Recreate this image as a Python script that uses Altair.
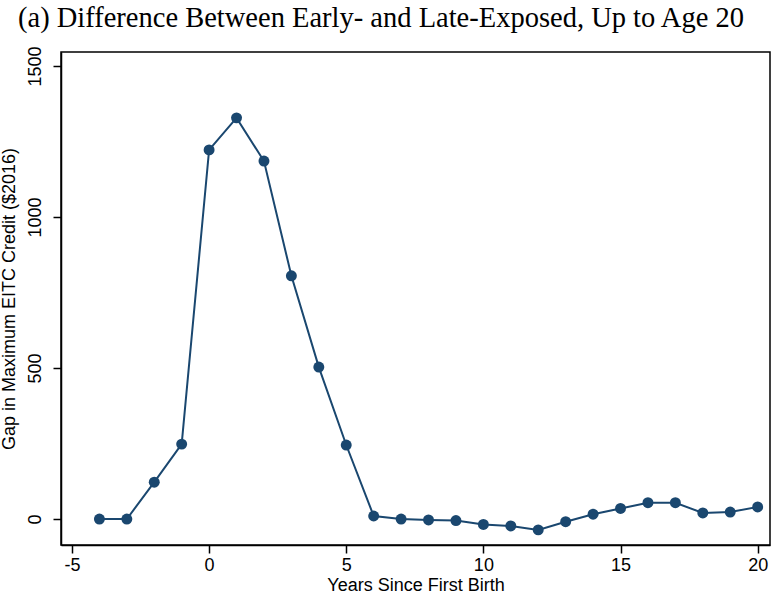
import altair as alt
import pandas as pd

# Years relative to first birth and the gap in maximum EITC credit ($2016)
years = [-4, -3, -2, -1, 0, 1, 2, 3, 4, 5, 6, 7, 8, 9, 10, 11, 12, 13, 14, 15, 16, 17, 18, 19, 20]
gap = [0, 0, 122, 248, 1222, 1328, 1185, 805, 503, 245, 10, 0, -3, -5, -18, -23, -36, -9, 16, 35, 54, 54, 20, 23, 40]

x_ticks = [-5, 0, 5, 10, 15, 20]
y_ticks = [0, 500, 1000, 1500]

df = pd.DataFrame({"year": years, "gap": gap})

NAVY = "#1a476f"

x_enc = alt.X(
    "year:Q",
    scale=alt.Scale(domain=[-5.4, 20.45], nice=False, zero=False),
    axis=alt.Axis(
        values=x_ticks,
        labelExpr="'' + datum.value",
        title="Years Since First Birth",
        grid=False,
        tickSize=8,
        labelPadding=3,
        titlePadding=2,
    ),
)
y_enc = alt.Y(
    "gap:Q",
    scale=alt.Scale(domain=[-86, 1546], nice=False, zero=False),
    axis=alt.Axis(
        values=y_ticks,
        labelExpr="'' + datum.value",
        title="Gap in Maximum EITC Credit ($2016)",
        grid=False,
        tickSize=8,
        labelAngle=270,
        labelAlign="center",
        labelBaseline="bottom",
        labelPadding=9,
        titlePadding=8,
    ),
)

line = alt.Chart(df).mark_line(color=NAVY, strokeWidth=2).encode(x=x_enc, y=y_enc)
points = alt.Chart(df).mark_circle(color=NAVY, size=120, opacity=1).encode(x=x_enc, y=y_enc)

chart = (
    alt.layer(line, points)
    .properties(
        width=709,
        height=493,
        autosize=alt.AutoSizeParams(type="none"),
        padding={"left": 61, "top": 52, "right": 1, "bottom": 54},
        title=alt.TitleParams(
            "(a) Difference Between Early- and Late-Exposed, Up to Age 20",
            anchor="start",
            frame="group",
            dx=-43,
            offset=13,
            font="Liberation Serif",
            fontSize=28.5,
            fontWeight="normal",
            color="black",
        ),
    )
    .configure_view(stroke="black", strokeWidth=1.5)
    .configure_axis(
        domainColor="black",
        tickColor="black",
        labelColor="black",
        titleColor="black",
        labelFont="Liberation Sans",
        titleFont="Liberation Sans",
        labelFontSize=18,
        titleFontSize=18,
        titleFontWeight="normal",
        domainWidth=1.5,
        tickWidth=1.5,
    )
)

chart.save("out.html", embed_options={"renderer": "svg", "actions": False})
